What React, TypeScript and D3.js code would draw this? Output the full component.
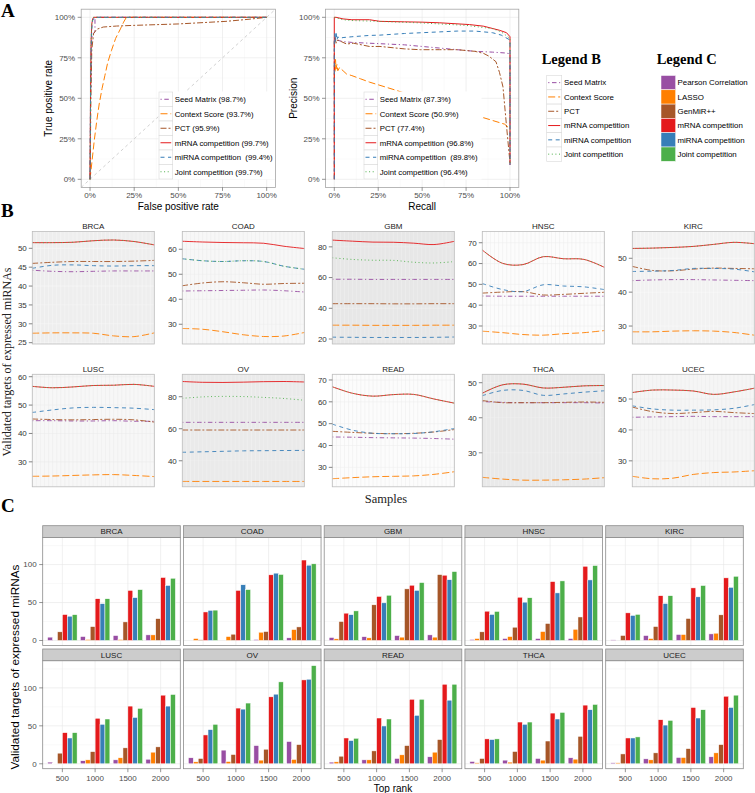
import React from 'react';
import * as d3 from 'd3';

type Pt = [number, number];

const SANS = '"Liberation Sans", Arial, Helvetica, sans-serif';
const SERIF = '"Liberation Serif", "Times New Roman", Times, serif';

// ---------- shared series styling ----------
const LINE_METHODS = ['Seed Matrix', 'Context Score', 'PCT', 'mRNA competition', 'miRNA competition', 'Joint competition'];
const BAR_METHODS = ['Pearson Correlation', 'LASSO', 'GenMiR++', 'mRNA competition', 'miRNA competition', 'Joint competition'];
const LINE_COLORS = ['#984EA3', '#FF7F00', '#A65628', '#E41A1C', '#377EB8', '#4DAF4A'];
const LINE_DASH = ['1.2,2.6,4.5,2.6', '7,3', '6,2,2,2', '', '4,3.5', '1,2.6'];

// ---------- Panel A : ROC ----------
const ROC_SEED: Pt[] = [[0, 0], [0.003, 0.5], [0.006, 0.78], [0.01, 0.87], [0.02, 0.9], [0.028, 0.91], [0.028, 0.99], [0.03, 1], [1, 1]];
const ROC_CONTEXT: Pt[] = [[0, 0], [0.01, 0.1], [0.024, 0.24], [0.038, 0.36], [0.052, 0.465], [0.068, 0.56], [0.084, 0.64], [0.1, 0.72], [0.121, 0.794], [0.145, 0.87], [0.172, 0.928], [0.19, 0.97], [0.206, 1], [1, 1]];
const ROC_PCT: Pt[] = [[0, 0], [0.005, 0.5], [0.01, 0.8], [0.02, 0.9], [0.038, 0.926], [0.075, 0.94], [0.15, 0.946], [0.245, 0.95], [0.5, 0.959], [0.77, 0.975], [0.9, 0.988], [1, 1]];
const ROC_MRNA: Pt[] = [[0, 0], [0.003, 0.55], [0.006, 0.85], [0.01, 0.96], [0.015, 0.99], [0.02, 1], [1, 1]];
const ROC_MIRNA: Pt[] = [[0, 0], [0.003, 0.5], [0.006, 0.8], [0.01, 0.93], [0.015, 0.98], [0.025, 1], [1, 1]];
const ROC_JOINT: Pt[] = [[0, 0], [0.003, 0.56], [0.006, 0.86], [0.01, 0.96], [0.015, 0.99], [0.02, 1], [1, 1]];
const ROC_LABELS = ['Seed Matrix (98.7%)', 'Context Score (93.7%)', 'PCT (95.9%)', 'mRNA competition (99.7%)', 'miRNA competition  (99.4%)', 'Joint competition (99.7%)'];

// ---------- Panel A : Precision / Recall ----------
const PR_SEED: Pt[] = [[0, 0.87], [0.01, 0.86], [0.05, 0.85], [0.1, 0.845], [0.2, 0.84], [0.3, 0.835], [0.4, 0.83], [0.5, 0.82], [0.6, 0.81], [0.7, 0.8], [0.8, 0.79], [0.9, 0.785], [0.97, 0.78], [1, 0.775], [1, 0.09]];
const PR_CONTEXT: Pt[] = [[0, 0.62], [0.002, 0.73], [0.004, 0.66], [0.007, 0.74], [0.01, 0.68], [0.015, 0.71], [0.02, 0.67], [0.03, 0.69], [0.05, 0.67], [0.07, 0.65], [0.1, 0.64], [0.15, 0.62], [0.2, 0.6], [0.26, 0.58], [0.35, 0.55], [0.49, 0.5], [0.6, 0.46], [0.7, 0.43], [0.77, 0.41], [0.85, 0.38], [0.94, 0.35], [0.97, 0.34], [1, 0.31]];
const PR_PCT: Pt[] = [[0, 0], [0, 0.85], [0.005, 0.88], [0.01, 0.84], [0.02, 0.86], [0.04, 0.85], [0.07, 0.835], [0.11, 0.84], [0.2, 0.82], [0.26, 0.82], [0.4, 0.805], [0.49, 0.8], [0.6, 0.8], [0.7, 0.8], [0.8, 0.79], [0.85, 0.777], [0.88, 0.76], [0.92, 0.726], [0.94, 0.66], [0.96, 0.57], [0.98, 0.33], [1, 0.1]];
const PR_MRNA: Pt[] = [[0, 0], [0, 1], [0.01, 1], [0.05, 0.99], [0.1, 0.985], [0.2, 0.985], [0.26, 0.975], [0.4, 0.972], [0.5, 0.97], [0.6, 0.966], [0.77, 0.955], [0.85, 0.945], [0.94, 0.92], [0.98, 0.905], [1, 0.88], [1, 0.09]];
const PR_MIRNA: Pt[] = [[0, 0], [0, 0.85], [0.003, 0.9], [0.006, 0.85], [0.01, 0.91], [0.015, 0.86], [0.02, 0.88], [0.03, 0.87], [0.05, 0.875], [0.1, 0.88], [0.2, 0.888], [0.26, 0.89], [0.4, 0.9], [0.5, 0.905], [0.6, 0.91], [0.7, 0.915], [0.8, 0.915], [0.9, 0.905], [0.95, 0.89], [1, 0.86], [1, 0.09]];
const PR_JOINT: Pt[] = [[0, 1], [0.05, 0.985], [0.1, 0.98], [0.25, 0.975], [0.5, 0.965], [0.75, 0.95], [0.9, 0.93], [0.95, 0.91], [1, 0.87], [1, 0.09]];
const PR_LABELS = ['Seed Matrix (87.3%)', 'Context Score (50.9%)', 'PCT (77.4%)', 'mRNA competition (96.8%)', 'miRNA competition  (89.8%)', 'Joint competition (96.4%)'];

const PCT_TICKS = [0, 0.25, 0.5, 0.75, 1];
const PCT_MINOR = [0.125, 0.375, 0.625, 0.875];

// ---------- Panel B ----------
const CANCERS = ['BRCA', 'COAD', 'GBM', 'HNSC', 'KIRC', 'LUSC', 'OV', 'READ', 'THCA', 'UCEC'];
const B_SEED = [
  [44.2, 43.9, 43.8, 43.9, 44.0, 44.0, 44.0],
  [43.3, 43.4, 43.5, 43.6, 43.7, 43.4, 42.9],
  [58.9, 58.9, 58.8, 58.8, 58.8, 58.8, 58.8],
  [44.4, 44.3, 44.3, 44.3, 44.3, 44.3, 44.3],
  [43.4, 43.6, 43.7, 43.7, 43.6, 43.5, 43.4],
  [44.5, 44.5, 44.4, 44.4, 44.5, 44.3, 44.3],
  [64.0, 64.0, 64.0, 64.0, 64.0, 64.0, 64.0],
  [43.9, 43.8, 43.6, 43.5, 43.4, 43.2, 42.9],
  [44.6, 44.4, 44.3, 44.3, 44.3, 44.3, 44.2],
  [44.1, 44.2, 44.3, 44.4, 44.3, 44.3, 44.3],
];
const B_CONTEXT = [
  [27.5, 27.6, 27.6, 27.5, 26.8, 26.6, 27.6],
  [28.3, 28.0, 27.0, 25.8, 25.1, 25.3, 26.7],
  [29.0, 29.0, 28.9, 28.9, 28.9, 29.0, 29.0],
  [27.5, 26.8, 25.9, 25.6, 26.3, 26.8, 27.8],
  [28.3, 28.3, 28.5, 28.6, 28.5, 28.1, 27.3],
  [24.9, 25.0, 25.2, 25.4, 25.5, 25.2, 24.8],
  [27.1, 27.1, 27.1, 27.1, 27.1, 27.1, 27.1],
  [24.8, 25.3, 25.7, 25.9, 26.1, 26.8, 28.0],
  [23.0, 22.5, 22.2, 22.2, 22.3, 22.5, 22.9],
  [25.0, 24.2, 24.4, 25.6, 26.2, 26.4, 26.8],
];
const B_PCT = [
  [46.0, 46.3, 46.5, 46.5, 46.5, 46.6, 46.8],
  [45.4, 46.5, 47.0, 46.6, 46.0, 46.3, 46.4],
  [43.0, 43.0, 43.0, 42.9, 42.9, 43.0, 43.0],
  [45.8, 46.3, 46.5, 44.9, 45.2, 45.7, 46.2],
  [47.6, 46.4, 46.3, 46.8, 47.1, 47.0, 46.9],
  [45.1, 44.9, 44.8, 44.9, 45.0, 44.8, 44.0],
  [59.2, 59.2, 59.2, 59.2, 59.2, 59.2, 59.2],
  [46.5, 46.0, 45.6, 45.4, 45.6, 46.2, 47.3],
  [44.9, 44.3, 44.3, 44.3, 44.4, 44.5, 44.4],
  [47.4, 45.9, 45.3, 45.6, 46.0, 45.6, 45.3],
];
const B_MRNA = [
  [51.5, 51.5, 51.6, 52.0, 52.2, 51.8, 50.9],
  [63.2, 62.9, 62.7, 62.6, 62.4, 61.2, 60.3],
  [84.4, 83.7, 83.1, 83.0, 82.4, 81.5, 83.6],
  [66.5, 60.1, 59.5, 63.3, 62.3, 62.0, 58.2],
  [52.9, 53.0, 53.2, 53.5, 54.1, 54.7, 54.3],
  [56.6, 56.1, 56.4, 56.9, 57.0, 57.3, 56.6],
  [89.5, 89.0, 88.9, 89.1, 89.4, 89.5, 89.2],
  [66.9, 63.9, 62.6, 63.3, 63.4, 61.3, 59.4],
  [47.0, 49.4, 49.6, 48.5, 48.7, 49.1, 49.2],
  [52.1, 52.9, 52.9, 52.6, 51.5, 52.3, 53.5],
];
const B_MIRNA = [
  [44.7, 45.5, 45.6, 45.4, 45.3, 45.4, 45.4],
  [56.2, 55.4, 55.1, 55.4, 55.1, 53.2, 52.0],
  [21.2, 21.1, 21.0, 21.0, 21.0, 21.1, 21.3],
  [50.4, 47.5, 46.5, 49.8, 49.2, 48.8, 47.5],
  [46.1, 46.2, 46.4, 47.0, 47.0, 46.8, 46.0],
  [47.4, 48.3, 49.0, 49.2, 49.1, 48.9, 48.4],
  [45.3, 45.6, 45.9, 46.2, 46.3, 46.4, 46.5],
  [49.8, 47.0, 45.6, 45.4, 45.5, 46.3, 47.8],
  [46.3, 47.8, 47.8, 46.4, 46.8, 47.3, 47.7],
  [47.8, 46.8, 46.4, 46.4, 46.5, 47.0, 48.2],
];
const B_JOINT = [
  [51.5, 51.5, 51.6, 52.0, 52.2, 51.8, 50.9],
  [56.2, 55.4, 55.1, 55.4, 55.1, 53.2, 52.0],
  [72.9, 71.8, 71.3, 71.2, 70.0, 69.5, 70.4],
  [66.5, 60.1, 59.5, 63.3, 62.3, 62.0, 58.2],
  [52.9, 53.0, 53.2, 53.5, 54.1, 54.7, 54.3],
  [56.6, 56.1, 56.4, 56.9, 57.0, 57.3, 56.6],
  [79.0, 79.9, 80.2, 80.1, 79.6, 78.9, 77.8],
  [66.9, 63.9, 62.6, 63.3, 63.4, 61.3, 59.4],
  [47.0, 49.4, 49.6, 48.5, 48.7, 49.1, 49.2],
  [52.1, 52.9, 52.9, 52.6, 51.5, 52.3, 53.5],
];
const B_YMIN = [24.65, 22.1, 16.75, 21.35, 24.7, 21.2, 23.75, 21.1, 20.3, 21.6];
const B_YMAX = [54.45, 67.1, 90.0, 75.4, 57.9, 60.85, 94.0, 72.6, 52.4, 58.0];
const B_TICKS = [
  [25, 30, 35, 40, 45, 50], [30, 40, 50, 60], [20, 40, 60, 80], [30, 40, 50, 60, 70], [30, 40, 50],
  [30, 40, 50, 60], [40, 60, 80], [30, 40, 50, 60, 70], [30, 40, 50], [30, 40, 50],
];
const B_BG = ['#EEEEEE', '#F7F7F7', '#E7E7E7', '#FCFCFC', '#F2F2F2', '#F7F7F7', '#EAEAEA', '#FCFCFC', '#E9E9E9', '#F5F5F5'];
const B_GRID = ['#F8F8F8', '#EAEAEA', '#F1F1F1', '#ECECEC', '#FAFAFA', '#EBEBEB', '#F3F3F3', '#ECECEC', '#F2F2F2', '#EAEAEA'];
const B_SAMPLES = 30;

// ---------- Panel C ----------
const RANKS = ['500', '1000', '1500', '2000'];
const C_PEARSON = [[4.4, 5.2, 6.5, 7.4], [0, 0, 1.3, 3.5], [3.9, 5, 6.5, 7.4], [1.3, 2.6, 2.6, 2.6], [0.8, 6.5, 7.9, 8.7], [2.2, 4, 5.2, 6], [7.9, 18, 24, 29.3], [2.2, 5.2, 7, 9.2], [3, 4.8, 7, 7.9], [1.3, 6.5, 8.3, 9.2]];
const C_LASSO = [[0, 1.3, 1.3, 7.4], [2.6, 5.2, 10.9, 14.4], [2.2, 3.5, 4.4, 4.4], [2.6, 5.2, 11.8, 14.8], [0, 2.6, 7.9, 9.6], [0.3, 5.2, 7.9, 15.3], [2.6, 3, 4.8, 5.7], [2.6, 5.2, 11.8, 15.3], [1.3, 2.2, 4.8, 6.1], [1.3, 5.2, 8.3, 14.4]];
const C_GENMIR = [[11.4, 18.3, 24.5, 28.8], [0.9, 8.3, 11.8, 17.9], [25, 47, 68, 86.8], [11.4, 17.5, 22.4, 31], [6.6, 18.4, 29, 33.8], [14, 16, 21, 22.3], [7, 12.2, 19.2, 25.3], [10, 17, 24, 31.9], [7, 16.2, 30, 36.2], [13, 14.4, 20, 25.3]];
const C_MRNA = [[34.2, 55, 66, 83], [37.6, 66, 86.5, 106], [36, 58, 72.8, 86], [38.6, 57, 77.6, 97.8], [36.4, 59, 69.3, 82.5], [41, 60, 76, 90.4], [38, 73.4, 88.2, 110.5], [34, 60.3, 85, 104.8], [32.8, 55, 66.8, 77.3], [34, 58, 74.2, 89]];
const C_MIRNA = [[32, 48.5, 56.4, 72.5], [39.7, 73.4, 88.7, 99.2], [34, 49.6, 66, 80], [34.3, 50.5, 62.7, 79.8], [33, 48.7, 57.5, 70], [34, 52, 61, 76], [45, 72, 91.7, 111.4], [30.6, 49.8, 63.8, 83.8], [31.9, 52, 59, 71.2], [34, 51, 60.3, 74.2]];
const C_JOINT = [[34, 55, 67, 82], [40, 67, 87, 101], [39, 59.6, 76.3, 90.8], [38.3, 56.3, 78.5, 98.7], [34.4, 59, 72.4, 84.6], [41, 59, 73, 91.3], [52, 80, 107.9, 129.3], [33.6, 59, 85, 104.8], [32.8, 55, 67.7, 78.2], [35.4, 57.2, 71.2, 90.4]];
const C_TICKS = [0, 50, 100];
const C_MINOR = [25, 75, 125];

// ---------- layout ----------
const W = 755;
const H = 793;

function CurvePanel(props: {
  id: string; x0: number; x1: number; y0: number; y1: number; curves: Pt[][]; labels: string[];
  legendX: number; diagonal: boolean; xTitle: string; yTitle: string; yTitleX: number;
}) {
  const { id, x0, x1, y0, y1, curves, labels, legendX, diagonal, xTitle, yTitle, yTitleX } = props;
  const x = d3.scaleLinear().domain([-0.05, 1.05]).range([x0, x1]);
  const y = d3.scaleLinear().domain([-0.05, 1.05]).range([y1, y0]);
  const line = d3.line<Pt>().x(d => x(d[0])).y(d => y(d[1]));
  const legTop = 92;
  const pitch = 14.5;
  return (
    <g>
      <rect x={x0} y={y0} width={x1 - x0} height={y1 - y0} fill="#fff" />
      {PCT_MINOR.map(v => (
        <g key={'mn' + v}>
          <line x1={x(v)} x2={x(v)} y1={y0} y2={y1} stroke="#F4F4F4" strokeWidth={0.5} />
          <line x1={x0} x2={x1} y1={y(v)} y2={y(v)} stroke="#F4F4F4" strokeWidth={0.5} />
        </g>
      ))}
      {PCT_TICKS.map(v => (
        <g key={'mj' + v}>
          <line x1={x(v)} x2={x(v)} y1={y0} y2={y1} stroke="#E6E6E6" strokeWidth={0.6} />
          <line x1={x0} x2={x1} y1={y(v)} y2={y(v)} stroke="#E6E6E6" strokeWidth={0.6} />
        </g>
      ))}
      <clipPath id={id}>
        <rect x={x0} y={y0} width={x1 - x0} height={y1 - y0} />
      </clipPath>
      <g clipPath={`url(#${id})`}>
        {diagonal && (
          <line x1={x(-0.05)} y1={y(-0.05)} x2={x(1.05)} y2={y(1.05)} stroke="#BDBDBD" strokeWidth={0.7} strokeDasharray="3,3" />
        )}
        {curves.map((c, i) => (
          <path key={i} d={line(c) || ''} fill="none" stroke={LINE_COLORS[i]} strokeWidth={1}
            strokeDasharray={LINE_DASH[i] || undefined} strokeLinejoin="round" />
        ))}
      </g>
      {/* legend */}
      <rect x={legendX - 0.5} y={legTop - 0.5} width={118} height={pitch * 6 + 1} fill="#fff" />
      {labels.map((lab, i) => {
        const cy = legTop + pitch * (i + 0.5);
        return (
          <g key={lab}>
            <rect x={legendX} y={legTop + pitch * i} width={13.7} height={pitch} fill="#fff" stroke="#D9D9D9" strokeWidth={0.6} />
            <line x1={legendX + 1.5} x2={legendX + 12.2} y1={cy} y2={cy} stroke={LINE_COLORS[i]} strokeWidth={1}
              strokeDasharray={LINE_DASH[i] || undefined} />
            <text x={legendX + 15.7} y={cy + 2.8} fontSize={7.8} fill="#000" style={{ whiteSpace: 'pre' }}>{lab}</text>
          </g>
        );
      })}
      <rect x={x0} y={y0} width={x1 - x0} height={y1 - y0} fill="none" stroke="#A6A6A6" strokeWidth={0.8} />
      {PCT_TICKS.map(v => (
        <g key={'t' + v}>
          <line x1={x(v)} x2={x(v)} y1={y1} y2={y1 + 3.5} stroke="#4D4D4D" strokeWidth={0.6} />
          <text x={x(v)} y={y1 + 11} fontSize={8} fill="#4D4D4D" textAnchor="middle">{`${v * 100}%`}</text>
          <line x1={x0 - 3.5} x2={x0} y1={y(v)} y2={y(v)} stroke="#4D4D4D" strokeWidth={0.6} />
          <text x={x0 - 6} y={y(v) + 2.8} fontSize={8} fill="#4D4D4D" textAnchor="end">{`${v * 100}%`}</text>
        </g>
      ))}
      <text x={(x0 + x1) / 2} y={209.5} fontSize={10} textAnchor="middle" fill="#000">{xTitle}</text>
      <text transform={`translate(${yTitleX},${(y0 + y1) / 2}) rotate(-90)`} fontSize={10} textAnchor="middle" fill="#000">{yTitle}</text>
    </g>
  );
}

export default function App() {
  // Panel B geometry
  const bLeft0 = 32.3, bPitch = 150.0, bW = 122, bH = 112.5;
  const bTops = [231.5, 374.3];
  const bSeries = [B_SEED, B_CONTEXT, B_PCT, B_MRNA, B_MIRNA, B_JOINT];

  // Panel C geometry
  const cLeft0 = 42.7, cPitch = 140.75, cW = 137.6;
  const cStripTops = [525.7, 649.0];
  const cStripH = 11.7, cPanelH = 108;
  const cSeries = [C_PEARSON, C_LASSO, C_GENMIR, C_MRNA, C_MIRNA, C_JOINT];

  const legRowTop = 75.5, legPitch = 14.3;

  return (
    <svg width={W} height={H} viewBox={`0 0 ${W} ${H}`} style={{ position: 'absolute', left: 0, top: 0, background: '#fff' }} fontFamily={SANS}>
      <rect x={0} y={0} width={W} height={H} fill="#fff" />
      {/* panel letters */}
      <text x={1} y={16.5} fontFamily={SERIF} fontWeight="bold" fontSize={19}>A</text>
      <text x={1} y={217} fontFamily={SERIF} fontWeight="bold" fontSize={19}>B</text>
      <text x={1} y={512} fontFamily={SERIF} fontWeight="bold" fontSize={19}>C</text>

      {/* Panel A */}
      <CurvePanel id="clipRoc" x0={81.2} x1={275.5} y0={9.2} y1={187.4}
        curves={[ROC_SEED, ROC_CONTEXT, ROC_PCT, ROC_MRNA, ROC_MIRNA, ROC_JOINT]} labels={ROC_LABELS}
        legendX={159} diagonal={true} xTitle="False positive rate" yTitle="True positive rate" yTitleX={52} />
      <CurvePanel id="clipPr" x0={325.5} x1={518.8} y0={9.2} y1={187.4}
        curves={[PR_SEED, PR_CONTEXT, PR_PCT, PR_MRNA, PR_MIRNA, PR_JOINT]} labels={PR_LABELS}
        legendX={364} diagonal={false} xTitle="Recall" yTitle="Precision" yTitleX={296.5} />

      {/* Legend B */}
      <text x={541.7} y={64} fontFamily={SERIF} fontWeight="bold" fontSize={14.5}>Legend B</text>
      {LINE_METHODS.map((m, i) => {
        const top = legRowTop + legPitch * i;
        const cy = top + legPitch / 2;
        return (
          <g key={'lb' + m}>
            <rect x={546.7} y={top} width={15} height={legPitch} fill="#fff" stroke="#D9D9D9" strokeWidth={0.6} />
            <line x1={548.2} x2={560.2} y1={cy} y2={cy} stroke={LINE_COLORS[i]} strokeWidth={1} strokeDasharray={LINE_DASH[i] || undefined} />
            <text x={564} y={cy + 2.8} fontSize={7.9} fill="#000">{m}</text>
          </g>
        );
      })}
      {/* Legend C */}
      <text x={656.7} y={64} fontFamily={SERIF} fontWeight="bold" fontSize={14.5}>Legend C</text>
      {BAR_METHODS.map((m, i) => {
        const top = legRowTop + legPitch * i;
        const cy = top + legPitch / 2;
        return (
          <g key={'lc' + m}>
            <rect x={661} y={top} width={14.7} height={legPitch} fill={LINE_COLORS[i]} stroke="#fff" strokeWidth={0.5} />
            <text x={677.5} y={cy + 2.8} fontSize={7.9} fill="#000">{m}</text>
          </g>
        );
      })}

      {/* Panel B */}
      {CANCERS.map((c, i) => {
        const col = i % 5, row = Math.floor(i / 5);
        const left = bLeft0 + col * bPitch;
        const top = bTops[row];
        const bottom = top + bH;
        const x = d3.scaleLinear().domain([0, 6]).range([left, left + bW]);
        const y = d3.scaleLinear().domain([B_YMIN[i], B_YMAX[i]]).range([bottom, top]);
        const line = d3.line<number>().x((_, k) => x(k)).y(d => y(d)).curve(d3.curveCatmullRom.alpha(0.5));
        const grid = d3.range(B_SAMPLES + 1).map(k => left + (k * bW) / B_SAMPLES);
        return (
          <g key={'b' + c}>
            <text x={left + bW / 2} y={top - 2.6} fontSize={8} textAnchor="middle" fill="#1A1A1A">{c}</text>
            <rect x={left} y={top} width={bW} height={bH} fill={B_BG[i]} />
            {grid.map((gx, k) => (
              <line key={k} x1={gx} x2={gx} y1={top} y2={bottom} stroke={B_GRID[i]} strokeWidth={0.5} />
            ))}
            {B_TICKS[i].map(t => (
              <line key={'h' + t} x1={left} x2={left + bW} y1={y(t)} y2={y(t)} stroke={B_GRID[i]} strokeWidth={0.5} />
            ))}
            {bSeries.map((s, m) => (
              <path key={m} d={line(s[i]) || ''} fill="none" stroke={LINE_COLORS[m]} strokeWidth={0.9}
                strokeDasharray={LINE_DASH[m] || undefined} />
            ))}
            <rect x={left} y={top} width={bW} height={bH} fill="none" stroke="#BDBDBD" strokeWidth={0.8} />
            {B_TICKS[i].map(t => (
              <g key={'t' + t}>
                <line x1={left - 3.5} x2={left} y1={y(t)} y2={y(t)} stroke="#333" strokeWidth={0.6} />
                <text x={left - 5.5} y={y(t) + 2.8} fontSize={8} textAnchor="end" fill="#333">{t}</text>
              </g>
            ))}
          </g>
        );
      })}
      <text transform={`translate(10.5,362) rotate(-90)`} fontFamily={SERIF} fontSize={12} textAnchor="middle" fill="#222">
        Validated targets of expressed miRNAs
      </text>
      <text x={386} y={503} fontFamily={SERIF} fontSize={12.5} textAnchor="middle" fill="#222">Samples</text>

      {/* Panel C */}
      {CANCERS.map((c, i) => {
        const col = i % 5, row = Math.floor(i / 5);
        const left = cLeft0 + col * cPitch;
        const stripTop = cStripTops[row];
        const top = stripTop + cStripH;
        const bottom = top + cPanelH;
        const x = d3.scaleLinear().domain([0.4, 4.6]).range([left, left + cW]);
        const y = d3.scaleLinear().domain([-6.47, 135.8]).range([bottom, top]);
        return (
          <g key={'c' + c}>
            <rect x={left} y={top} width={cW} height={cPanelH} fill="#fff" />
            {C_MINOR.map(t => (
              <line key={'mn' + t} x1={left} x2={left + cW} y1={y(t)} y2={y(t)} stroke="#F3F3F3" strokeWidth={0.5} />
            ))}
            {C_TICKS.map(t => (
              <line key={'mj' + t} x1={left} x2={left + cW} y1={y(t)} y2={y(t)} stroke="#E6E6E6" strokeWidth={0.6} />
            ))}
            {RANKS.map((r, g) => (
              <line key={'v' + r} x1={x(g + 1)} x2={x(g + 1)} y1={top} y2={bottom} stroke="#E6E6E6" strokeWidth={0.6} />
            ))}
            {RANKS.map((r, g) =>
              cSeries.map((s, m) => {
                const v = s[i][g];
                const xs = g + 1 - 0.45 + 0.15 * m;
                return (
                  <rect key={r + '-' + m} x={x(xs)} y={y(v)} width={x(xs + 0.15) - x(xs)} height={Math.max(0, y(0) - y(v))}
                    fill={LINE_COLORS[m]} stroke="#fff" strokeWidth={0.5} />
                );
              })
            )}
            <rect x={left} y={top} width={cW} height={cPanelH} fill="none" stroke="#8C8C8C" strokeWidth={0.8} />
            <rect x={left} y={stripTop} width={cW} height={cStripH} fill="#CCCCCC" stroke="#8C8C8C" strokeWidth={0.8} />
            <text x={left + cW / 2} y={stripTop + cStripH / 2 + 2.9} fontSize={8} textAnchor="middle" fill="#1A1A1A">{c}</text>
            {col === 0 && C_TICKS.map(t => (
              <g key={'yt' + t}>
                <line x1={left - 3.5} x2={left} y1={y(t)} y2={y(t)} stroke="#4D4D4D" strokeWidth={0.6} />
                <text x={left - 6} y={y(t) + 2.8} fontSize={8} textAnchor="end" fill="#4D4D4D">{t}</text>
              </g>
            ))}
            {row === 1 && RANKS.map((r, g) => (
              <g key={'xt' + r}>
                <line x1={x(g + 1)} x2={x(g + 1)} y1={bottom} y2={bottom + 3.5} stroke="#4D4D4D" strokeWidth={0.6} />
                <text x={x(g + 1)} y={bottom + 12.2} fontSize={8} textAnchor="middle" fill="#4D4D4D">{r}</text>
              </g>
            ))}
          </g>
        );
      })}
      <text x={393} y={791.5} fontSize={10} textAnchor="middle" fill="#000">Top rank</text>
      <text transform={`translate(19,667) rotate(-90)`} fontSize={11.8} textAnchor="middle" fill="#000">
        Validated targets of expressed miRNAs
      </text>
    </svg>
  );
}
